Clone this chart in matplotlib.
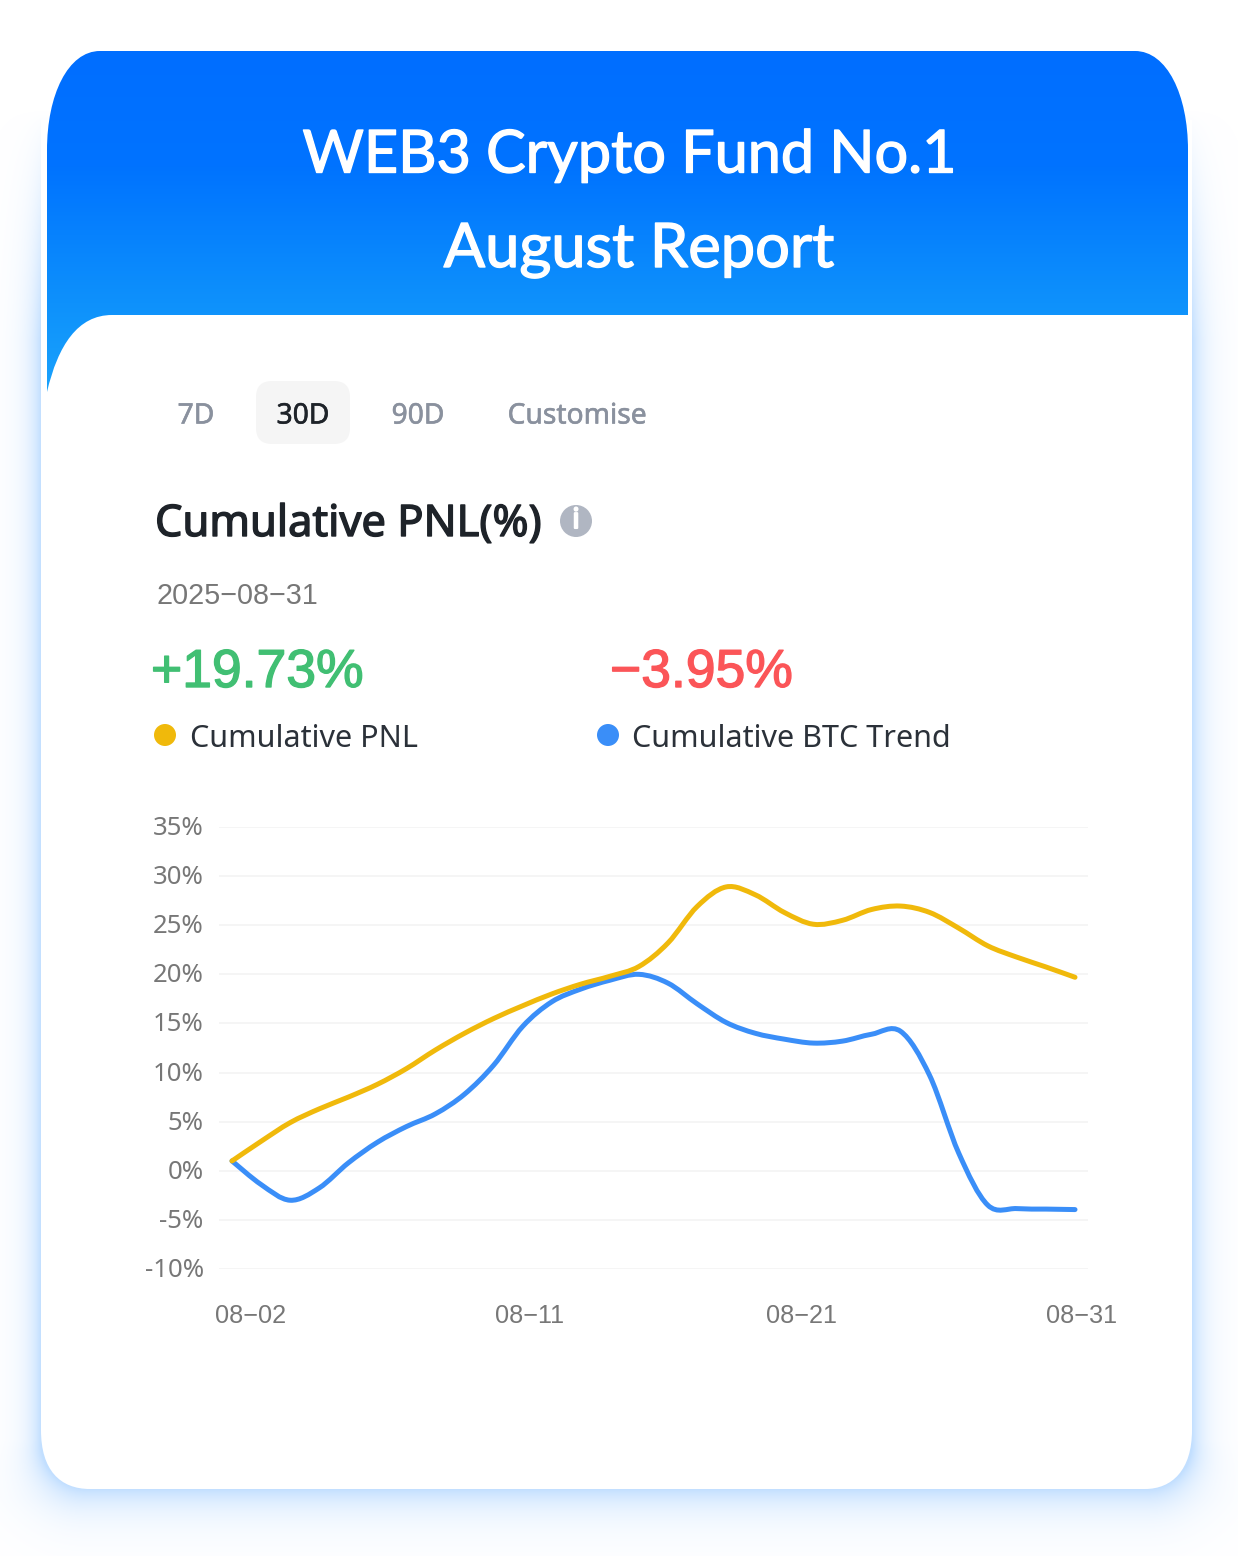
import numpy as np
import matplotlib
matplotlib.use("Agg")
import matplotlib.pyplot as plt
import matplotlib.patheffects as pe
from matplotlib.colors import LinearSegmentedColormap, to_rgb
from matplotlib.patches import Circle, FancyBboxPatch, PathPatch
from matplotlib.path import Path
from matplotlib.transforms import ScaledTranslation

WIDTH, HEIGHT = 1238, 1556

# values, one per day
days = list(range(2, 32))
pnl = [1.0, 3.0, 4.9, 6.3, 7.5, 8.8, 10.4, 12.3, 14.0, 15.5, 16.8, 18.0, 19.0, 19.8, 20.8,
       23.2, 26.9, 28.9, 28.1, 26.3, 25.1, 25.5, 26.6, 26.95, 26.3, 24.7, 22.9, 21.75, 20.75, 19.7]
btc = [1.0, -1.4, -3.0, -1.75, 0.8, 2.9, 4.5, 5.8, 7.8, 10.75, 14.7, 17.2, 18.5, 19.4, 20.0,
       19.1, 17.0, 15.1, 14.0, 13.4, 13.0, 13.2, 13.9, 14.2, 9.7, 1.8, -3.5, -3.85, -3.9, -3.95]

y_ticks = [-10, -5, 0, 5, 10, 15, 20, 25, 30, 35]
x_labels = ["08−02", "08−11", "08−21", "08−31"]
# labels sit off the data days in the original, so these are fractional days
x_label_days = [2.65, 12.25, 21.6, 31.24]

tabs = ["7D", "30D", "90D", "Customise"]
tab_x = [196, 303, 418, 577]

PNL_COLOR = "#f0b90b"
BTC_COLOR = "#3a8ef8"
GREY = "#777777"


def smooth_path(x, y):
    """Catmull-Rom spline through the points, as bezier segments."""
    x, y = np.asarray(x, float), np.asarray(y, float)
    pts = np.column_stack([x, y])
    verts = [pts[0]]
    codes = [Path.MOVETO]
    for i in range(len(pts) - 1):
        p0 = pts[max(i - 1, 0)]
        p1, p2 = pts[i], pts[i + 1]
        p3 = pts[min(i + 2, len(pts) - 1)]
        verts += [p1 + (p2 - p0) / 6, p2 - (p3 - p1) / 6, p2]
        codes += [Path.CURVE4] * 3
    return Path(verts, codes)


def heavy(width, color):
    # fake a heavier weight, the installed Noto Sans only draws regular
    return [pe.withStroke(linewidth=width, foreground=color)]


fig = plt.figure(figsize=(WIDTH / 100, HEIGHT / 100), dpi=100, facecolor="white")
bg = fig.add_axes([0, 0, 1, 1])
bg.set_xlim(0, WIDTH)
bg.set_ylim(HEIGHT, 0)
bg.axis("off")

# soft blue shadow around the rounded card, wider below than on the sides
xx, yy = np.meshgrid(np.arange(WIDTH) + 0.5, np.arange(HEIGHT) + 0.5)
radius = 45
qx = np.maximum(np.abs(xx - 616.5) - (575.5 - radius), 0)
qy = np.maximum(yy - (1489 - radius), 0)
edge_dist = np.maximum(np.hypot(qx, qy) - radius, 0)
spread = 13 + 8 * np.clip((yy - 1440) / 60, 0, 1)
fade_up = np.clip((yy - 110) / 230, 0, 1)
shadow = np.zeros((HEIGHT, WIDTH, 4))
shadow[..., :3] = to_rgb("#c2dfff")
shadow[..., 3] = np.exp(-edge_dist / spread) * fade_up
bg.imshow(shadow, extent=(0, WIDTH, HEIGHT, 0), aspect="auto", zorder=1)

# white card body
card = Path(
    [(41, 120), (1192, 120), (1192, 1430), (1192, 1470), (1172, 1489), (1145, 1489),
     (90, 1489), (60, 1489), (41, 1470), (41, 1430), (41, 120)],
    [Path.MOVETO, Path.LINETO, Path.LINETO, Path.CURVE4, Path.CURVE4, Path.CURVE4,
     Path.LINETO, Path.CURVE4, Path.CURVE4, Path.CURVE4, Path.CLOSEPOLY],
)
bg.add_patch(PathPatch(card, fc="white", ec="none", zorder=2))

# blue header with gradient
header = Path(
    [(47, 150), (47, 95), (68, 51), (100, 51), (1135, 51), (1167, 51), (1188, 95), (1188, 150),
     (1188, 400), (47, 400), (47, 150)],
    [Path.MOVETO, Path.CURVE4, Path.CURVE4, Path.CURVE4, Path.LINETO, Path.CURVE4, Path.CURVE4,
     Path.CURVE4, Path.LINETO, Path.LINETO, Path.CLOSEPOLY],
)
header_patch = PathPatch(header, fc="none", ec="none", zorder=3)
bg.add_patch(header_patch)
cmap = LinearSegmentedColormap.from_list(
    "hdr", [(0, "#006eff"), (0.33, "#0073ff"), (0.75, "#0f93fb"), (1, "#1ba4fd")])
grad = np.linspace(0, 1, 400).reshape(-1, 1)
img = bg.imshow(grad, cmap=cmap, extent=(40, 1195, 400, 51), aspect="auto", zorder=3)
img.set_clip_path(header_patch)
bg.set_xlim(0, WIDTH)
bg.set_ylim(HEIGHT, 0)

# white panel cutting into the header
panel = Path(
    [(47, 392), (58, 345), (78, 315), (112, 315), (1192, 315), (1192, 420), (47, 420), (47, 392)],
    [Path.MOVETO, Path.CURVE4, Path.CURVE4, Path.CURVE4, Path.LINETO, Path.LINETO, Path.LINETO,
     Path.CLOSEPOLY],
)
bg.add_patch(PathPatch(panel, fc="white", ec="none", zorder=4))

# title
for line, x, y, size in [("WEB3 Crypto Fund No.1", 629, 156, 42.7), ("August Report", 639, 250, 44.2)]:
    bg.text(x, y, line, color="white", fontsize=size, family="Lato",
            ha="center", va="center", zorder=5, path_effects=heavy(1.0, "white"))

# range tabs
bg.add_patch(FancyBboxPatch((256, 381), 94, 63, boxstyle="round,pad=0,rounding_size=16", fc="#f5f5f5",
                            ec="none", zorder=5))
for name, x in zip(tabs, tab_x):
    color = "#1e2329" if name == "30D" else "#8a919e"
    bg.text(x, 416, name, fontsize=20.3, family="Noto Sans", ha="center", va="center", zorder=6,
            color=color, path_effects=heavy(0.4, color))

# heading
bg.text(155, 525, "Cumulative PNL(%)", fontsize=31.3, family="Noto Sans",
        color="#1e2329", va="center", zorder=6, path_effects=heavy(1.0, "#1e2329"))
bg.add_patch(Circle((576, 521), 16, fc="#b0b6c2", ec="none", zorder=6))
bg.text(576, 521, "i", fontsize=20, family="Noto Sans", color="white",
        ha="center", va="center", zorder=7, path_effects=heavy(1.5, "white"))
bg.text(157, 596, "2025−08−31", fontsize=20.7, family="Liberation Sans", color=GREY, va="center", zorder=6)

# headline numbers
bg.text(151, 673, "+19.73%", fontsize=38.5, family="Liberation Sans", color="#41bf73", va="center",
        zorder=6, path_effects=heavy(1.0, "#41bf73"))
bg.text(610, 673, "−3.95%", fontsize=38.5, family="Liberation Sans", color="#fb5558", va="center",
        zorder=6, path_effects=heavy(1.0, "#fb5558"))

# legend
bg.add_patch(Circle((165, 735), 11, fc=PNL_COLOR, ec="none", zorder=6))
bg.add_patch(Circle((608, 735), 11, fc=BTC_COLOR, ec="none", zorder=6))
bg.text(190, 739, "Cumulative PNL", fontsize=22, family="Noto Sans", color="#2b3139", va="center", zorder=6)
bg.text(632, 739, "Cumulative BTC Trend", fontsize=22, family="Noto Sans", color="#2b3139", va="center", zorder=6)

# chart, x axis spans px 219-1088 with day 2 at px 232 and day 31 at px 1075
ax = fig.add_axes([219 / WIDTH, 1 - 1269 / HEIGHT, (1088 - 219) / WIDTH, (1269 - 827) / HEIGHT])
ax.patch.set_alpha(0)
px_per_day = (1075 - 232) / (days[-1] - days[0])
ax.set_xlim(days[0] - 13 / px_per_day, days[-1] + 13 / px_per_day)
ax.set_ylim(y_ticks[0], y_ticks[-1])
for spine in ax.spines.values():
    spine.set_visible(False)
ax.set_yticks(y_ticks)
ax.set_yticklabels([f"{v}%" for v in y_ticks], fontsize=18.5, family="Noto Sans", color=GREY)
ax.set_xticks(x_label_days)
ax.set_xticklabels(x_labels, fontsize=18.2, family="Liberation Sans", color=GREY)
ax.tick_params(axis="y", length=0, pad=11)
ax.tick_params(axis="x", length=0, pad=25)
nudge = ScaledTranslation(0, 1.5 / 100, fig.dpi_scale_trans)
for label in ax.get_yticklabels():
    label.set_transform(label.get_transform() + nudge)
ax.grid(axis="y", color="#f3f3f3", lw=1.2)
ax.set_axisbelow(True)
for values, color in [(btc, BTC_COLOR), (pnl, PNL_COLOR)]:
    ax.add_patch(PathPatch(smooth_path(days, values), fc="none", ec=color, lw=3.6,
                           capstyle="round", joinstyle="round", clip_on=False, zorder=3))

fig.savefig("out.png", dpi=100)
